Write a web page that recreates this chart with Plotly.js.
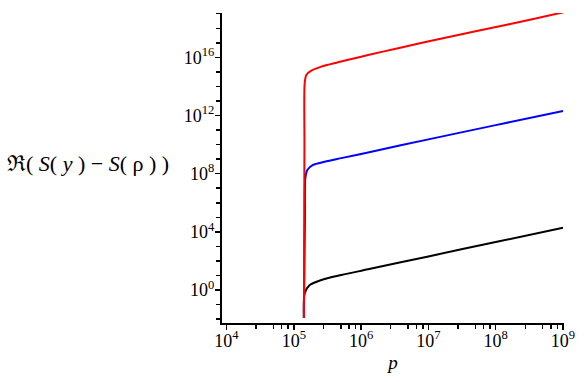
<html lang="en">
  <head>
    <meta charset="UTF-8" />
    <script src="https://cdn.plot.ly/plotly-3.0.1.min.js"></script>
    <title>Re(S(y) - S(rho))</title>
  </head>
  <body style="margin:0">
    <div id="chart" style="width: 587px; height: 382px;"></div>
    <script>
      // values (p on x, Re(S(y)-S(rho)) on y)
      const pRed = [1.413e5, 1.439e5, 1.452e5, 1.535e5, 1.820e5, 2.564e5, 4.539e5, 8.035e5, 1.268e6, 3.162e6, 2.089e7, 1.585e8, 8.710e8, 1e9];
      const valRed = [0.01175, 1e10, 1.738e14, 6.166e14, 1.202e15, 2.291e15, 4.571e15, 8.710e15, 1.445e16, 3.802e16, 2.630e17, 1.905e18, 1.072e19, 1.230e19];

      const pBlue = [1.413e5, 1.462e5, 1.483e5, 1.589e5, 1.928e5, 2.877e5, 5.082e5, 1.268e6, 1e7, 1e8, 1e9];
      const valBlue = [0.01175, 1e5, 4.786e7, 1.778e8, 3.981e8, 6.607e8, 1.175e9, 2.884e9, 2.291e10, 2.188e11, 2.042e12];

      const pBlack = [1.413e5, 1.452e5, 1.722e5, 2.564e5, 5.082e5, 1.268e6, 1e7, 1e8, 1e9];
      const valBlack = [0.01175, 0.589, 2.188, 4.898, 10.72, 26.30, 204.2, 1995, 1.905e4];

      const xTickVals = [1e4, 1e5, 1e6, 1e7, 1e8, 1e9];
      const xTickText = ['10<sup>4</sup>', '10<sup>5</sup>', '10<sup>6</sup>', '10<sup>7</sup>', '10<sup>8</sup>', '10<sup>9</sup>'];
      const yTickVals = [1, 1e4, 1e8, 1e12, 1e16];
      const yTickText = ['10<sup>0</sup>', '10<sup>4</sup>', '10<sup>8</sup>', '10<sup>12</sup>', '10<sup>16</sup>'];

      // minor ticks
      const xMinor = [];
      for (let e = 4; e < 9; e++) {
        [2.75, 5, 6.6, 8.25].forEach(m => xMinor.push(m * Math.pow(10, e)));
      }
      const yMinor = [];
      for (let e = -2; e <= 19; e++) {
        if (e % 4 !== 0) yMinor.push(Math.pow(10, e));
      }

      const font = 'Liberation Serif, Times New Roman, serif';

      const traces = [
        { x: pBlack, y: valBlack, type: 'scatter', mode: 'lines', line: { color: '#000000', width: 2, shape: 'spline', smoothing: 0.8 } },
        { x: pBlue, y: valBlue, type: 'scatter', mode: 'lines', line: { color: '#0000ff', width: 2, shape: 'spline', smoothing: 0.8 } },
        { x: pRed, y: valRed, type: 'scatter', mode: 'lines', line: { color: '#ff0000', width: 2, shape: 'spline', smoothing: 0.8 } }
      ];

      const layout = {
        width: 587,
        height: 382,
        margin: { l: 222, r: 23, t: 13, b: 59 },
        showlegend: false,
        paper_bgcolor: '#ffffff',
        plot_bgcolor: '#ffffff',
        font: { family: font, size: 16, color: '#000000' },
        xaxis: {
          type: 'log',
          range: [3.933, 9.015],
          showgrid: false,
          zeroline: false,
          showline: true,
          linecolor: '#000000',
          linewidth: 2,
          ticks: 'outside',
          ticklen: 5,
          tickwidth: 1.5,
          tickcolor: '#000000',
          tickmode: 'array',
          tickvals: xTickVals,
          ticktext: xTickText,
          ticklabelstandoff: -5,
          tickfont: { family: font, size: 18 },
          minor: { tickvals: xMinor, ticks: 'outside', ticklen: 4, tickwidth: 1.5, tickcolor: '#000000' },
          title: { text: '<i>p</i>', font: { family: font, size: 19 }, standoff: 6 }
        },
        yaxis: {
          type: 'log',
          range: [-2.27, 19.05],
          showgrid: false,
          zeroline: false,
          showline: true,
          linecolor: '#000000',
          linewidth: 2,
          ticks: 'outside',
          ticklen: 5,
          tickwidth: 1.5,
          tickcolor: '#000000',
          tickmode: 'array',
          tickvals: yTickVals,
          ticktext: yTickText,
          ticklabelstandoff: -3,
          tickfont: { family: font, size: 18 },
          minor: { tickvals: yMinor, ticks: 'outside', ticklen: 4, tickwidth: 1.5, tickcolor: '#000000' }
        },
        annotations: [
          {
            text: 'ℜ( <i>S</i>( <i>y</i> ) − <i>S</i>( ρ ) )',
            xref: 'paper', yref: 'paper',
            x: -0.392, y: 0.515,
            xanchor: 'center', yanchor: 'middle',
            showarrow: false,
            font: { family: font, size: 22 }
          }
        ]
      };

      Plotly.newPlot('chart', traces, layout, { displayModeBar: false, staticPlot: true });
    </script>
  </body>
</html>
